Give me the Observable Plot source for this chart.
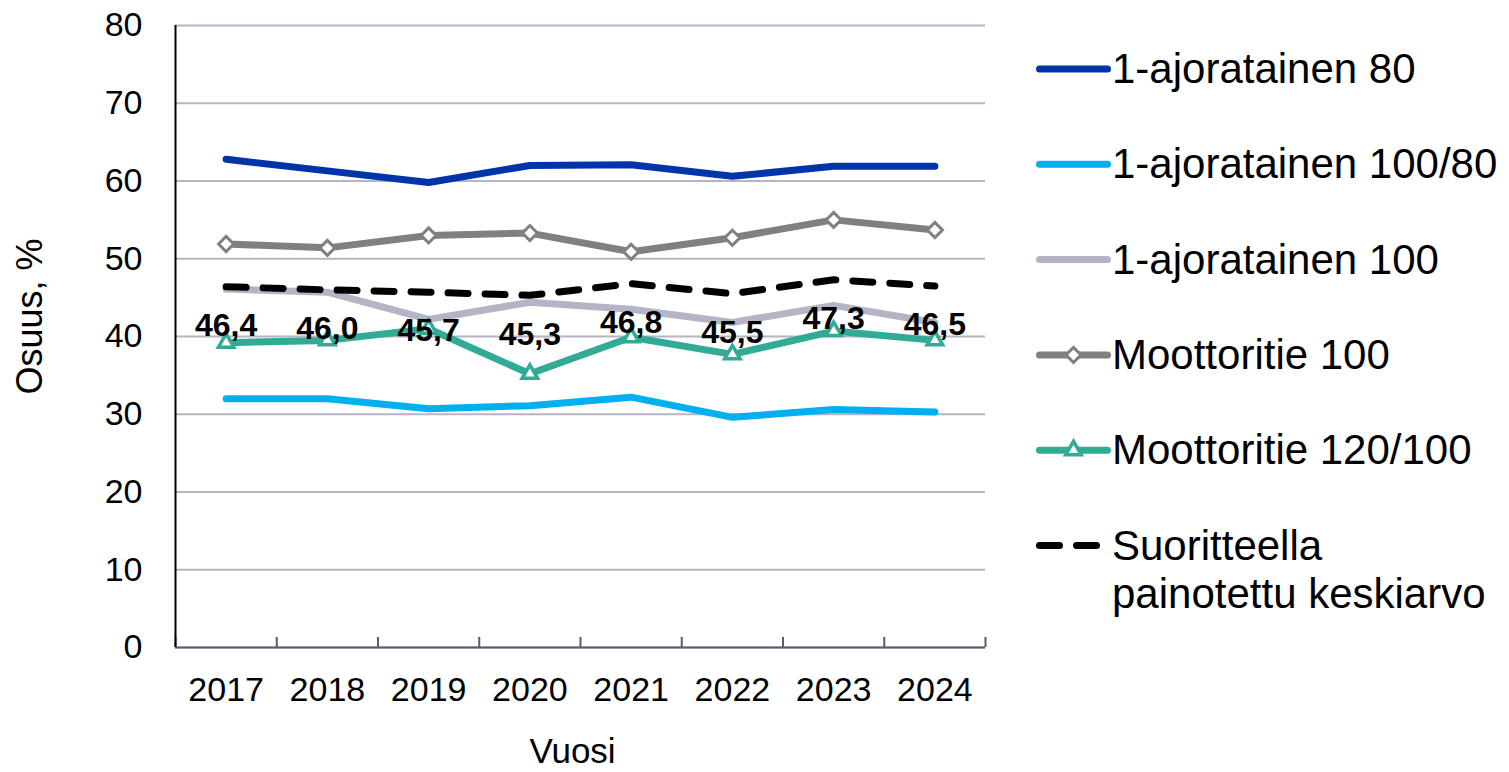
<!DOCTYPE html>
<html>
<head>
<meta charset="utf-8">
<script src="https://cdn.jsdelivr.net/npm/d3@7"></script>
<script src="https://cdn.jsdelivr.net/npm/@observablehq/plot@0.6"></script>
<style>
  html, body { margin: 0; padding: 0; background: #fff; }
  #wrap { position: relative; width: 1509px; height: 772px; overflow: hidden; font-family: "Liberation Sans", Arial, sans-serif; }
  #chart { position: absolute; left: 0; top: 0; }
  #legend { position: absolute; left: 1000px; top: 0; }
</style>
</head>
<body>
<div id="wrap"><div id="chart"></div><div id="legend"></div></div>
<script>
const years = [2017, 2018, 2019, 2020, 2021, 2022, 2023, 2024];
const yTicks = [0, 10, 20, 30, 40, 50, 60, 70, 80];
const boundaries = [2016.5, 2017.5, 2018.5, 2019.5, 2020.5, 2021.5, 2022.5, 2023.5, 2024.5];

const seriesNames = ["1-ajoratainen 80", "1-ajoratainen 100/80", "1-ajoratainen 100", "Moottoritie 100", "Moottoritie 120/100", "Suoritteella painotettu keskiarvo"];
const ajo80 = [62.8, 61.3, 59.8, 62.0, 62.1, 60.6, 61.9, 61.9];
const ajo10080 = [32.0, 32.0, 30.7, 31.1, 32.2, 29.6, 30.6, 30.3];
const ajo100 = [46.1, 45.7, 42.2, 44.4, 43.5, 41.8, 44.0, 41.8];
const moot100 = [51.9, 51.4, 53.0, 53.3, 50.9, 52.7, 55.0, 53.7];
const moot120 = [39.2, 39.5, 41.0, 35.2, 39.9, 37.7, 40.7, 39.5];
const keskiarvo = [46.4, 46.0, 45.7, 45.3, 46.8, 45.5, 47.3, 46.5];

const colors = ["#0035a9", "#00b0f0", "#b5b4c6", "#808080", "#31ab96", "#000000"];

const rows = (vals) => years.map((y, i) => ({year: y, value: vals[i]}));
const fmt = (v) => v.toFixed(1).replace(".", ",");
const FONT = '"Liberation Sans", Arial, sans-serif';

const lineOpts = (c, extra = {}) => ({x: "year", y: "value", stroke: c, strokeWidth: 7, strokeLinecap: "round", strokeLinejoin: "round", ...extra});

const chart = Plot.plot({
  width: 1000,
  height: 772,
  marginLeft: 175,
  marginRight: 15,
  marginTop: 25,
  marginBottom: 125,
  x: {domain: [2016.5, 2024.5]},
  y: {domain: [0, 80]},
  style: {fontFamily: FONT, fontSize: "34px", color: "#000", background: "#fff", overflow: "visible"},
  marks: [
    Plot.gridY(yTicks, {stroke: "#b6b4c6", strokeOpacity: 1, strokeWidth: 2}),
    Plot.axisY(yTicks, {tickSize: 0, tickPadding: 33, label: null, fontSize: 34}),
    Plot.axisX(years, {tickSize: 0, tickPadding: 29, label: null, fontSize: 34, tickFormat: (d) => String(d)}),
    Plot.ruleY([0], {stroke: "#5b5b6b", strokeWidth: 2}),
    Plot.ruleX(boundaries, {y1: 0, y2: 1.3, stroke: "#5b5b6b", strokeWidth: 2}),
    Plot.ruleX([2016.5], {y1: 0, y2: 80, stroke: "#000", strokeWidth: 2}),
    Plot.line(rows(ajo80), lineOpts(colors[0])),
    Plot.line(rows(ajo10080), lineOpts(colors[1])),
    Plot.line(rows(ajo100), lineOpts(colors[2])),
    Plot.line(rows(moot100), lineOpts(colors[3])),
    Plot.dot(rows(moot100), {x: "year", y: "value", symbol: "diamond2", r: 6.8, fill: "#fff", stroke: colors[3], strokeWidth: 3}),
    Plot.line(rows(moot120), lineOpts(colors[4])),
    Plot.dot(rows(moot120), {x: "year", y: "value", symbol: "triangle2", r: 7.4, fill: "#fff", stroke: colors[4], strokeWidth: 3.5}),
    Plot.line(rows(keskiarvo), lineOpts(colors[5], {strokeDasharray: "20,17"})),
    Plot.text(rows(keskiarvo), {x: "year", y: "value", text: (d) => fmt(d.value), dy: 39, fontWeight: "bold", fontSize: 32, fill: "#000"}),
    Plot.text(["Osuus, %"], {frameAnchor: "left", textAnchor: "middle", lineAnchor: "middle", dx: -145, dy: -20, rotate: -90, fontSize: 36, fill: "#000"}),
    Plot.text(["Vuosi"], {frameAnchor: "bottom", textAnchor: "middle", lineAnchor: "middle", dy: 104, dx: -8, fontSize: 35, fill: "#000"})
  ]
});
document.getElementById("chart").appendChild(chart);

// Legend
const lg = d3.select("#legend").append("svg").attr("width", 509).attr("height", 772)
  .style("font-family", FONT);
const y0 = 69, step = 95.3;
seriesNames.forEach((name, i) => {
  const cy = y0 + i * step;
  const g = lg.append("g");
  const line = g.append("line").attr("x1", 39.5).attr("x2", i === 5 ? 97 : 107.5).attr("y1", cy).attr("y2", cy)
    .attr("stroke", colors[i]).attr("stroke-width", 7).attr("stroke-linecap", "round");
  if (i === 5) line.attr("stroke-dasharray", "20,17");
  if (i === 3) {
    g.append("path").attr("d", d3.symbol(d3.symbolDiamond2, Math.PI * 6.8 * 6.8)()).attr("transform", `translate(73.5,${cy})`)
      .attr("fill", "#fff").attr("stroke", colors[3]).attr("stroke-width", 3);
  }
  if (i === 4) {
    g.append("path").attr("d", d3.symbol(d3.symbolTriangle2, Math.PI * 7.4 * 7.4)()).attr("transform", `translate(73.5,${cy})`)
      .attr("fill", "#fff").attr("stroke", colors[4]).attr("stroke-width", 3.5);
  }
  const t = g.append("text").attr("x", 112).attr("y", cy + 14).attr("font-size", 42).attr("fill", "#000");
  if (i === 5) {
    t.append("tspan").attr("x", 112).text("Suoritteella");
    t.append("tspan").attr("x", 112).attr("dy", 48).text("painotettu keskiarvo");
  } else {
    t.text(name);
  }
});
</script>
</body>
</html>
